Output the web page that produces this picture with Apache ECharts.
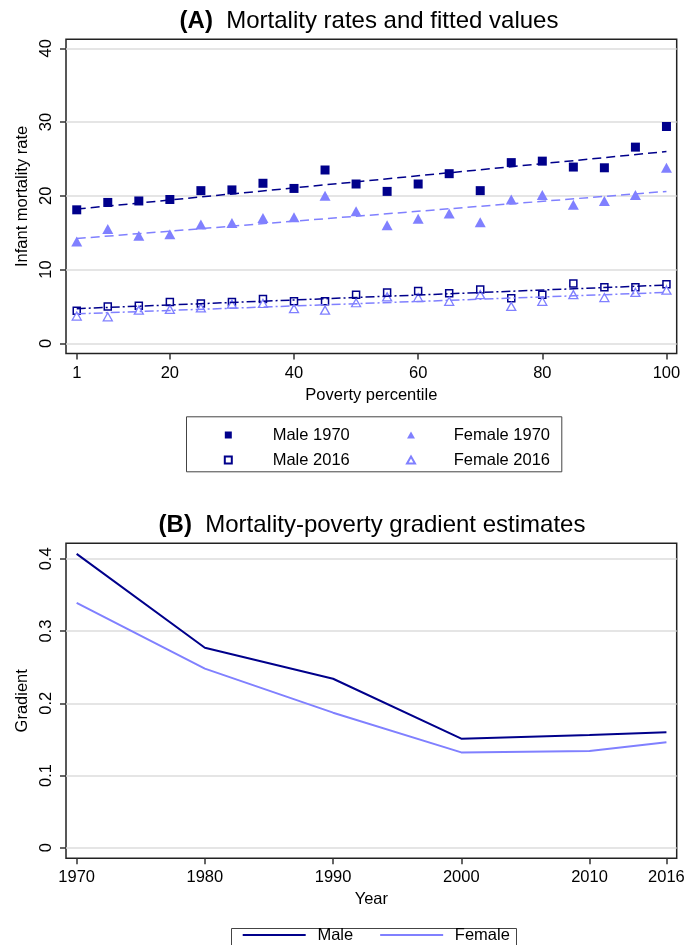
<!DOCTYPE html>
<html>
<head>
<meta charset="utf-8">
<script src="https://cdn.jsdelivr.net/npm/echarts@6/dist/echarts.min.js"></script>
<style>
  html, body { margin: 0; padding: 0; background: #fff; }
  #chart { width: 696px; height: 945px; }
</style>
</head>
<body>
<div id="chart"></div>
<script>
// ---- panel A: infant mortality by poverty ventile ----
var percentile = [5, 10, 15, 20, 25, 30, 35, 40, 45, 50, 55, 60, 65, 70, 75, 80, 85, 90, 95, 100];
var male1970 = [18.1, 19.1, 19.3, 19.5, 20.7, 20.8, 21.7, 21.0, 23.5, 21.6, 20.6, 21.6, 23.0, 20.7, 24.5, 24.7, 23.9, 23.8, 26.6, 29.4];
var female1970 = [13.8, 15.5, 14.6, 14.8, 16.1, 16.3, 17.0, 17.1, 20.0, 17.9, 16.0, 16.9, 17.6, 16.4, 19.5, 20.1, 18.8, 19.3, 20.1, 23.8];
var male2016 = [4.4, 5.0, 5.1, 5.6, 5.4, 5.6, 6.0, 5.7, 5.7, 6.6, 6.9, 7.1, 6.8, 7.3, 6.1, 6.6, 8.1, 7.6, 7.6, 8.0];
var female2016 = [3.7, 3.6, 4.5, 4.6, 4.8, 5.3, 5.4, 4.7, 4.5, 5.5, 6.3, 6.2, 5.7, 6.6, 5.0, 5.7, 6.6, 6.2, 6.9, 7.2];

// fitted lines (values read at both ends)
var fitX = [5, 100];
var fitMale1970 = [18.2, 26.0];
var fitFemale1970 = [14.2, 20.6];
var fitMale2016 = [4.7, 7.9];
var fitFemale2016 = [4.0, 6.9];

var ticksA_x = [5, 20, 40, 60, 80, 100];
var ticksA_y = [0, 10, 20, 30, 40];

// ---- panel B: gradient estimates ----
var years = [1970, 1980, 1990, 2000, 2010, 2016];
var gradMale = [0.407, 0.277, 0.234, 0.151, 0.156, 0.160];
var gradFemale = [0.339, 0.248, 0.187, 0.132, 0.134, 0.146];
var ticksB_y = [0, 0.1, 0.2, 0.3, 0.4];

var NAVY = "#00008b";
var LIGHT = "#8080ff";
var FONT = "'Liberation Sans', Arial, sans-serif";

function pairs(xs, ys) {
  return xs.map(function (x, i) { return [x, ys[i]]; });
}

var txt = { fontFamily: FONT, fontSize: 16.5, color: "#000" };

function xAxisOf(grid, min, max, ticks, name, fmt) {
  return {
    gridIndex: grid, type: "value", min: min, max: max,
    axisLine: { show: false, onZero: false },
    axisTick: { show: true, length: 6, customValues: ticks, lineStyle: { color: "#333", width: 1.5 } },
    axisLabel: Object.assign({ customValues: ticks, margin: 11, formatter: fmt }, txt),
    splitLine: { show: false },
    name: name, nameLocation: "middle", nameGap: 33, nameTextStyle: txt
  };
}

function yAxisOf(grid, min, max, ticks, name) {
  return {
    gridIndex: grid, type: "value", min: min, max: max,
    axisLine: { show: false, onZero: false },
    axisTick: { show: true, length: 6, customValues: ticks, lineStyle: { color: "#333", width: 1.5 } },
    axisLabel: Object.assign({ customValues: ticks, margin: 11, rotate: 90 }, txt),
    splitLine: { show: true, lineStyle: { color: "#dcdcdc", width: 1.5 } },
    name: name, nameLocation: "middle", nameRotate: 90, nameGap: 35, nameMoveOverlap: false,
    nameTextStyle: txt
  };
}

function fitLine(name, ys, color, dash) {
  return {
    name: name, type: "line", xAxisIndex: 0, yAxisIndex: 0,
    data: pairs(fitX, ys), symbol: "none", silent: true,
    lineStyle: { color: color, width: 1.5, type: dash }
  };
}

function titleOf(tag, rest, left, top) {
  return {
    text: "{b|" + tag + "}  " + rest,
    left: left, top: top, textAlign: "center",
    textStyle: { fontFamily: FONT, fontSize: 24, fontWeight: "normal", color: "#000",
      rich: { b: { fontFamily: FONT, fontSize: 24, fontWeight: "bold", color: "#000" } } }
  };
}

var chart = echarts.init(document.getElementById("chart"), null, { renderer: "canvas" });

var option = {
  animation: false,
  backgroundColor: "#fff",
  title: [
    titleOf("(A)", "Mortality rates and fitted values", 364, 4),
    titleOf("(B)", "Mortality-poverty gradient estimates", 367, 508)
  ],
  grid: [
    { left: 66, right: 19.3, top: 39.3, height: 314.2, show: true, borderColor: "#222", borderWidth: 1.5 },
    { left: 66, right: 19.3, top: 543.3, height: 315, show: true, borderColor: "#222", borderWidth: 1.5 }
  ],
  xAxis: [
    xAxisOf(0, 3.27, 101.65, ticksA_x, "Poverty percentile", function (v) { return v === 5 ? "1" : String(v); }),
    xAxisOf(1, 1969.17, 2016.8, years, "Year", function (v) { return String(v); })
  ],
  yAxis: [
    yAxisOf(0, -1.38, 41.22, ticksA_y, "Infant mortality rate"),
    yAxisOf(1, -0.0147, 0.4216, ticksB_y, "Gradient")
  ],
  legend: [
    {
      data: ["Male 1970", "Male 2016"], orient: "vertical",
      left: 218.8, top: 421.5, itemWidth: 7, itemHeight: 7, itemGap: 8,
      textStyle: Object.assign({ lineHeight: 17, padding: [0, 0, 0, 35.9] }, txt)
    },
    {
      data: ["Female 1970", "Female 2016"], orient: "vertical",
      left: 401, top: 421.5, itemWidth: 8, itemHeight: 7, itemGap: 8,
      textStyle: Object.assign({ lineHeight: 17, padding: [0, 0, 0, 33.7] }, txt)
    },
    {
      data: ["Male", "Female"], orient: "horizontal",
      left: 236.7, top: 921.5, itemWidth: 63, itemHeight: 14, itemGap: 26,
      itemStyle: { opacity: 0 },
      lineStyle: { width: 2 },
      textStyle: Object.assign({ lineHeight: 17, padding: [0, 0, 0, 6.7] }, txt)
    }
  ],
  graphic: [
    { type: "rect", left: 184, top: 414.3, shape: { width: 375.3, height: 55 },
      style: { fill: "none", stroke: "#444", lineWidth: 1 }, silent: true },
    { type: "rect", left: 229, top: 926, shape: { width: 285, height: 40 },
      style: { fill: "none", stroke: "#444", lineWidth: 1 }, silent: true }
  ],
  series: [
    { name: "Male 1970", type: "scatter", xAxisIndex: 0, yAxisIndex: 0, data: pairs(percentile, male1970),
      symbol: "rect", symbolSize: 9, itemStyle: { color: NAVY, opacity: 1 } },
    { name: "Female 1970", type: "scatter", xAxisIndex: 0, yAxisIndex: 0, data: pairs(percentile, female1970),
      symbol: "triangle", symbolSize: [11, 10], itemStyle: { color: LIGHT, opacity: 1 } },
    { name: "Male 2016", type: "scatter", xAxisIndex: 0, yAxisIndex: 0, data: pairs(percentile, male2016),
      symbol: "rect", symbolSize: 7, itemStyle: { color: "#fff", borderColor: NAVY, borderWidth: 1.5, opacity: 1 } },
    { name: "Female 2016", type: "scatter", xAxisIndex: 0, yAxisIndex: 0, data: pairs(percentile, female2016),
      symbol: "triangle", symbolSize: [9, 8], itemStyle: { color: "#fff", borderColor: LIGHT, borderWidth: 1.3, opacity: 1 } },
    fitLine("fit m70", fitMale1970, NAVY, [9, 5]),
    fitLine("fit f70", fitFemale1970, LIGHT, [9, 5]),
    fitLine("fit m16", fitMale2016, NAVY, [9, 3, 2, 3]),
    fitLine("fit f16", fitFemale2016, LIGHT, [9, 3, 2, 3]),
    { name: "Male", type: "line", xAxisIndex: 1, yAxisIndex: 1, data: pairs(years, gradMale),
      symbol: "none", lineStyle: { color: NAVY, width: 2 }, itemStyle: { color: NAVY } },
    { name: "Female", type: "line", xAxisIndex: 1, yAxisIndex: 1, data: pairs(years, gradFemale),
      symbol: "none", lineStyle: { color: LIGHT, width: 2 }, itemStyle: { color: LIGHT } }
  ]
};

chart.setOption(option);
</script>
</body>
</html>
